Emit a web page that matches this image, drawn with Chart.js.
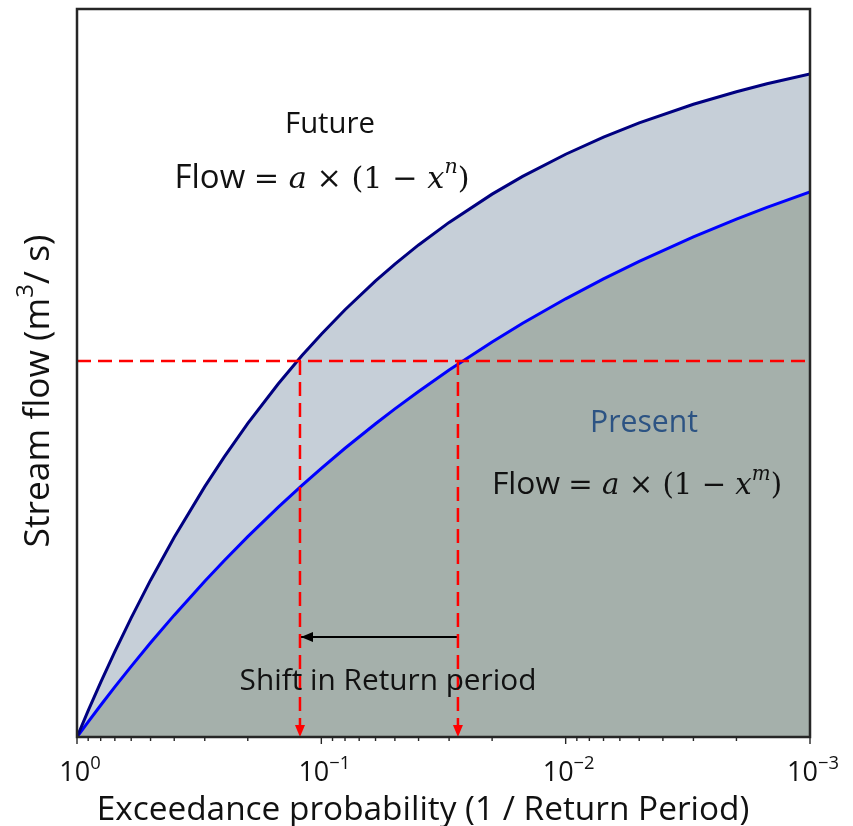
<!DOCTYPE html>
<html>
<head>
<meta charset="utf-8">
<script src="https://cdn.jsdelivr.net/npm/chart.js@4.4.1/dist/chart.umd.min.js"></script>
<style>
  html, body { margin: 0; padding: 0; background: #ffffff; }
  #wrap { width: 853px; height: 826px; position: relative; }
</style>
</head>
<body>
<div id="wrap"><canvas id="flowChart"></canvas></div>
<script>
// exceedance probability (x) and normalised stream flow for both curves
const exceedance = [1, 0.9, 0.8, 0.7, 0.6, 0.5, 0.4, 0.3, 0.25, 0.2, 0.15, 0.12, 0.1, 0.08, 0.06, 0.05,
    0.04, 0.03, 0.02, 0.015, 0.01, 0.007, 0.005, 0.003, 0.002, 0.0015, 0.001];
const futureFlow = [0, 0.0362, 0.0751, 0.1174, 0.1637, 0.2154, 0.2744, 0.3439, 0.3844, 0.4307, 0.4852,
    0.5239, 0.5533, 0.5869, 0.6264, 0.6495, 0.6759, 0.7069, 0.7457, 0.7701, 0.8005, 0.8239, 0.8435,
    0.8691, 0.8864, 0.8973, 0.9109];
const presentFlow = [0, 0.0209, 0.0436, 0.0689, 0.0971, 0.1294, 0.1674, 0.2140, 0.2421, 0.2752, 0.3157,
    0.3456, 0.3690, 0.3966, 0.4303, 0.4507, 0.4747, 0.5041, 0.5427, 0.5683, 0.6019, 0.6293, 0.6534,
    0.6871, 0.7115, 0.7276, 0.7488];

// design flow level and where each curve reaches it
const designFlow = 0.5165;
const futureCross = 0.1223;
const presentCross = 0.0276;
const shiftArrowFlow = 0.1374;

const xTickValues = [1, 0.1, 0.01, 0.001];
const xTickExponents = ['0', '\u22121', '\u22122', '\u22123'];
const minorSteps = [2, 3, 4, 5, 6, 7, 8, 9];

const toPoints = (xs, ys) => xs.map((x, i) => ({ x: x, y: ys[i] }));

const SANS = '"Open Sans", "DejaVu Sans", sans-serif';
const SERIF = '"DejaVu Serif", "Liberation Serif", serif';

function runFont(r, size) {
    let s = r.serif ? size * 0.92 : size;
    if (r.sup) s *= 0.68;
    return `${r.italic ? 'italic ' : ''}${s}px ${r.serif ? SERIF : SANS}`;
}

// draw a run of text pieces (with superscripts) centred on cx
function drawRuns(ctx, runs, cx, baseline, size, color) {
    const pieces = runs.map(r => {
        const f = runFont(r, size);
        ctx.font = f;
        return { t: r.t, f: f, w: ctx.measureText(r.t).width, dy: r.sup ? -size * 0.45 : 0 };
    });
    const total = pieces.reduce((a, p) => a + p.w, 0);
    let x = cx - total / 2;
    ctx.fillStyle = color;
    ctx.textAlign = 'left';
    ctx.textBaseline = 'alphabetic';
    pieces.forEach(p => {
        ctx.font = p.f;
        ctx.fillText(p.t, x, baseline + p.dy);
        x += p.w;
    });
}

function fitSize(ctx, runs, width, base) {
    let total = 0;
    runs.forEach(r => {
        ctx.font = runFont(r, base);
        total += ctx.measureText(r.t).width;
    });
    return base * width / total;
}

function formulaRuns(power) {
    return [
        { t: 'Flow ' },
        { t: '= ', serif: true },
        { t: 'a', serif: true, italic: true },
        { t: ' \u00d7 (1 \u2212 ', serif: true },
        { t: 'x', serif: true, italic: true },
        { t: power, serif: true, italic: true, sup: true },
        { t: ')', serif: true }
    ];
}

const decorations = {
    id: 'decorations',
    afterDatasetsDraw(chart) {
        const { ctx, chartArea } = chart;
        const xs = chart.scales.x;
        const ys = chart.scales.y;
        ctx.save();

        // red arrowheads at the axis
        ctx.fillStyle = '#ff0000';
        [futureCross, presentCross].forEach(v => {
            const px = xs.getPixelForValue(v);
            const py = ys.getPixelForValue(0);
            ctx.beginPath();
            ctx.moveTo(px, py);
            ctx.lineTo(px - 5, py - 12);
            ctx.lineTo(px + 5, py - 12);
            ctx.closePath();
            ctx.fill();
        });

        // black arrowhead of the shift arrow
        const ax = xs.getPixelForValue(futureCross) + 1;
        const ay = ys.getPixelForValue(shiftArrowFlow);
        ctx.fillStyle = '#000000';
        ctx.beginPath();
        ctx.moveTo(ax, ay);
        ctx.lineTo(ax + 12, ay - 5);
        ctx.lineTo(ax + 12, ay + 5);
        ctx.closePath();
        ctx.fill();

        // frame
        ctx.strokeStyle = '#262626';
        ctx.lineWidth = 2.5;
        ctx.strokeRect(chartArea.left, chartArea.top, chartArea.right - chartArea.left, chartArea.bottom - chartArea.top);

        // ticks on the x axis
        ctx.lineWidth = 1.4;
        const bottom = chartArea.bottom;
        xTickValues.forEach((v, i) => {
            const px = xs.getPixelForValue(v);
            ctx.beginPath();
            ctx.moveTo(px, bottom);
            ctx.lineTo(px, bottom + 7);
            ctx.stroke();
            if (i < xTickValues.length - 1) {
                minorSteps.forEach(k => {
                    const mx = xs.getPixelForValue(v * k / 10);
                    ctx.beginPath();
                    ctx.moveTo(mx, bottom);
                    ctx.lineTo(mx, bottom + 4);
                    ctx.stroke();
                });
            }
            drawRuns(ctx, [{ t: '10' }, { t: xTickExponents[i], sup: true }],
                px + 3, bottom + 44, 27, '#111111');
        });

        // axis titles
        const xTitle = [{ t: 'Exceedance probability (1 / Return Period)' }];
        drawRuns(ctx, xTitle, 423, 820, fitSize(ctx, xTitle, 653, 24), '#111111');

        ctx.save();
        ctx.translate(49, 391);
        ctx.rotate(-Math.PI / 2);
        const yTitle = [{ t: 'Stream flow (m' }, { t: '3', sup: true }, { t: '/ s)' }];
        drawRuns(ctx, yTitle, 0, 0, fitSize(ctx, yTitle, 313, 24), '#111111');
        ctx.restore();

        // annotations
        const fut = [{ t: 'Future' }];
        drawRuns(ctx, fut, 330, 133, fitSize(ctx, fut, 90, 24), '#111111');
        const fRuns = formulaRuns('n');
        drawRuns(ctx, fRuns, 322, 188, fitSize(ctx, fRuns, 295, 26), '#111111');

        const pre = [{ t: 'Present' }];
        drawRuns(ctx, pre, 644, 432, fitSize(ctx, pre, 108, 24), '#2c5383');
        const pRuns = formulaRuns('m');
        drawRuns(ctx, pRuns, 637, 494, fitSize(ctx, pRuns, 290, 26), '#111111');

        const shift = [{ t: 'Shift in Return period' }];
        drawRuns(ctx, shift, 388, 690, fitSize(ctx, shift, 297, 24), '#111111');

        ctx.restore();
    }
};

const redLine = {
    borderColor: '#ff0000',
    borderWidth: 2.5,
    borderDash: [14, 7],
    pointRadius: 0,
    fill: false,
    order: 0
};

new Chart(document.getElementById('flowChart'), {
    type: 'line',
    data: {
        datasets: [{
            label: 'Future',
            data: toPoints(exceedance, futureFlow),
            borderColor: '#000080',
            borderWidth: 3,
            pointRadius: 0,
            fill: 1,
            backgroundColor: '#c6cfd8',
            order: 3
        }, {
            label: 'Present',
            data: toPoints(exceedance, presentFlow),
            borderColor: '#0000ff',
            borderWidth: 3,
            pointRadius: 0,
            fill: 'origin',
            backgroundColor: '#a5b0ab',
            order: 4
        }, {
            ...redLine,
            label: 'Design flow',
            data: [{ x: 1, y: designFlow }, { x: 0.001, y: designFlow }]
        }, {
            ...redLine,
            label: 'Future return period',
            data: [{ x: futureCross, y: designFlow }, { x: futureCross, y: 0 }]
        }, {
            ...redLine,
            label: 'Present return period',
            data: [{ x: presentCross, y: designFlow }, { x: presentCross, y: 0 }]
        }, {
            label: 'Shift',
            data: [{ x: presentCross, y: shiftArrowFlow }, { x: futureCross, y: shiftArrowFlow }],
            borderColor: '#000000',
            borderWidth: 2,
            pointRadius: 0,
            fill: false,
            order: 1
        }]
    },
    plugins: [decorations],
    options: {
        responsive: true,
        maintainAspectRatio: false,
        animation: false,
        layout: {
            padding: { left: 77, right: 43, top: 9, bottom: 89 }
        },
        plugins: {
            legend: { display: false },
            tooltip: { enabled: false },
            filler: { drawTime: 'beforeDatasetsDraw' }
        },
        scales: {
            x: {
                type: 'logarithmic',
                reverse: true,
                min: 0.001,
                max: 1,
                display: false
            },
            y: {
                min: 0,
                max: 1,
                display: false
            }
        }
    }
});
</script>
</body>
</html>
